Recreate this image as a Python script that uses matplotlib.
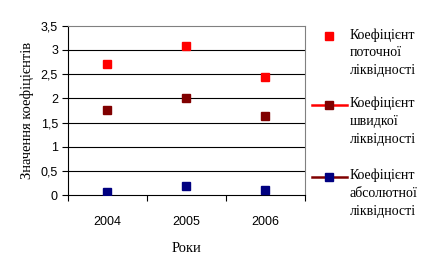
import matplotlib
matplotlib.use("Agg")
import matplotlib.pyplot as plt
from matplotlib.lines import Line2D

years = ["2004", "2005", "2006"]
current_ratio = [2.70, 3.09, 2.44]
quick_ratio = [1.76, 2.01, 1.645]
absolute_ratio = [0.075, 0.20, 0.11]
series_names = ["Коефіцієнт\nпоточної\nліквідності",
                "Коефіцієнт\nшвидкої\nліквідності",
                "Коефіцієнт\nабсолютної\nліквідності"]
colors = ["#FF0000", "#800000", "#000080"]
legend_line_colors = [None, "#FF0000", "#800000"]

W, H = 432, 267
fig = plt.figure(figsize=(W / 100, H / 100), dpi=100)
fig.patch.set_facecolor("white")
ax = fig.add_axes([67.7 / W, 1 - 195.3 / H, (304.5 - 67.7) / W, (195.3 - 25.7) / H])

x = list(range(len(years)))
for vals, c in zip([current_ratio, quick_ratio, absolute_ratio], colors):
    ax.plot(x, vals, linestyle="none", marker="s", markersize=5.8, color=c, zorder=3)

ax.set_xlim(-0.5, len(years) - 0.5)
ax.set_ylim(0, 3.5)
yt = [0, 0.5, 1, 1.5, 2, 2.5, 3, 3.5]
ax.set_yticks(yt)
ax.set_yticklabels([("%g" % v).replace(".", ",") for v in yt],
                   fontfamily="Liberation Sans", fontsize=9)
for v in yt[1:-1]:
    ax.axhline(v, color="black", linewidth=0.8, zorder=1)

ax.set_xticks([i - 0.5 for i in range(len(years) + 1)])
ax.set_xticklabels([""] * (len(years) + 1))
ax.set_xticks(x, minor=True)
ax.set_xticklabels(years, minor=True, fontfamily="Liberation Sans", fontsize=9)
ax.tick_params(axis="x", which="minor", length=0, pad=15)
ax.tick_params(axis="x", which="major", length=4, width=0.8, color="black")
ax.tick_params(axis="y", length=4, width=0.8, pad=3)

ax.spines["left"].set_color("black")
ax.spines["bottom"].set_color("black")
ax.spines["top"].set_color("#808080")
ax.spines["right"].set_color("#808080")
for s in ax.spines.values():
    s.set_linewidth(0.8)

ax.set_ylabel("Значення коефіцієнтів", fontfamily="Liberation Serif", fontsize=10.5, labelpad=5)
ax.set_xlabel("Роки", fontfamily="Liberation Serif", fontsize=10.5, labelpad=10)

# legend
entry_y = [36, 105, 177]
for name, c, lc, yy in zip(series_names, colors, legend_line_colors, entry_y):
    fy = 1 - yy / H
    if lc is not None:
        fig.add_artist(Line2D([311.7 / W, 346.7 / W], [fy, fy], color=lc, linewidth=1.8))
    fig.add_artist(Line2D([329.3 / W], [fy], marker="s", markersize=5.8, color=c, linestyle="none"))
    fig.text(350 / W, 1 - (yy - 8) / H, name, fontfamily="Liberation Serif", fontsize=10,
             va="top", ha="left", linespacing=1.47)

fig.savefig("out.png", dpi=100)
